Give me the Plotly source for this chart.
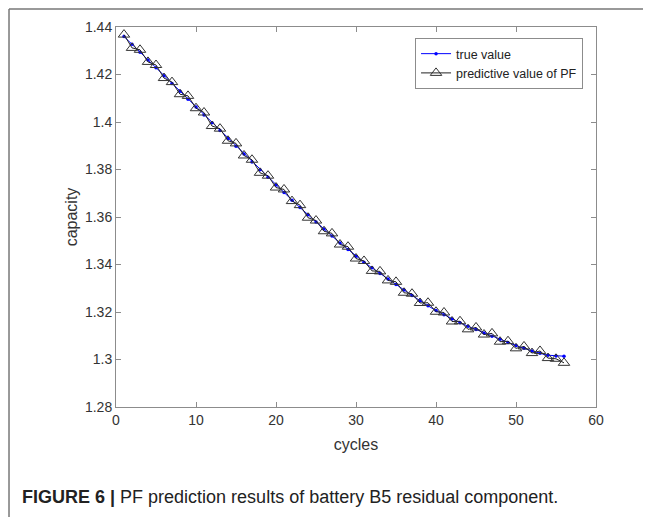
import plotly.graph_objects as go

cycles = list(range(1, 57))

true_value = [1.4360, 1.4327, 1.4294, 1.4261, 1.4228, 1.4195, 1.4162, 1.4129, 1.4096, 1.4063,
              1.4030, 1.3997, 1.3964, 1.3931, 1.3898, 1.3865, 1.3832, 1.3799, 1.3767, 1.3735,
              1.3703, 1.3671, 1.3640, 1.3609, 1.3579, 1.3549, 1.3520, 1.3491, 1.3463, 1.3435,
              1.3410, 1.3386, 1.3362, 1.3339, 1.3316, 1.3293, 1.3270, 1.3247, 1.3226, 1.3206,
              1.3188, 1.3171, 1.3155, 1.3140, 1.3126, 1.3112, 1.3098, 1.3085, 1.3072, 1.3059,
              1.3047, 1.3036, 1.3026, 1.3018, 1.3015, 1.3014]

pf_value = [1.4368, 1.4312, 1.4304, 1.4253, 1.4240, 1.4185, 1.4168, 1.4117, 1.4110, 1.4058,
            1.4040, 1.3983, 1.3972, 1.3921, 1.3910, 1.3859, 1.3841, 1.3786, 1.3774, 1.3724,
            1.3716, 1.3667, 1.3650, 1.3597, 1.3585, 1.3540, 1.3531, 1.3484, 1.3475, 1.3425,
            1.3415, 1.3373, 1.3371, 1.3333, 1.3327, 1.3281, 1.3277, 1.3238, 1.3239, 1.3201,
            1.3198, 1.3160, 1.3161, 1.3127, 1.3135, 1.3105, 1.3110, 1.3075, 1.3077, 1.3047,
            1.3055, 1.3027, 1.3036, 1.3006, 1.3003, 1.2986]

x_ticks = [0, 10, 20, 30, 40, 50, 60]
y_ticks = [1.28, 1.30, 1.32, 1.34, 1.36, 1.38, 1.40, 1.42, 1.44]
y_labels = ['1.28', '1.3', '1.32', '1.34', '1.36', '1.38', '1.4', '1.42', '1.44']

font = 'Liberation Sans, Arial, sans-serif'
axcol = '#8c8c8c'

pf = go.Scatter(x=cycles, y=pf_value, name='predictive value of PF', mode='lines+markers',
                line=dict(color='#222222', width=1),
                marker=dict(symbol='triangle-up-open', size=10, color='#333333', line=dict(width=1)),
                legendrank=2)
tv = go.Scatter(x=cycles, y=true_value, name='true value', mode='lines+markers',
                line=dict(color='#0000ff', width=1),
                marker=dict(symbol='circle', size=3.5, color='#0000ff'),
                legendrank=1)

axis = dict(showline=True, linecolor=axcol, linewidth=1, mirror='ticks', ticks='inside',
            ticklen=5, tickcolor=axcol, showgrid=False, zeroline=False,
            tickfont=dict(size=14, color='#333333', family=font),
            title_font=dict(size=16, color='#333333', family=font))

# page has an 8px body margin, so the figure is 8px smaller than the window
layout = go.Layout(
    width=643, height=509, paper_bgcolor='white', plot_bgcolor='white',
    margin=dict(l=108, r=55, t=19, b=110),
    font=dict(family=font),
    xaxis=dict(axis, range=[0, 60], tickvals=x_ticks, title=dict(text='cycles', standoff=12)),
    yaxis=dict(axis, range=[1.28, 1.44], tickvals=y_ticks, ticktext=y_labels,
               title=dict(text='capacity', standoff=3)),
    legend=dict(x=0.973, y=0.971, xanchor='right', yanchor='top', bgcolor='white',
                bordercolor='#8c8c8c', borderwidth=1, font=dict(size=12.5, color='#222222'),
                itemwidth=30, tracegroupgap=0),
    showlegend=True,
    shapes=[
        dict(type='line', xref='paper', yref='paper', x0=-0.2229, x1=1.2, y0=1.0474, y1=1.0474,
             line=dict(color='#777777', width=1.5)),
        dict(type='line', xref='paper', yref='paper', x0=-0.2229, x1=-0.2229, y0=-0.3, y1=1.0474,
             line=dict(color='#777777', width=1.5)),
    ],
    annotations=[
        dict(text='<b>FIGURE 6 |</b> PF prediction results of battery B5 residual component.',
             xref='paper', yref='paper', x=-0.2, y=-0.2368, xanchor='left', yanchor='middle',
             showarrow=False, font=dict(size=18, color='#222222', family=font)),
    ],
)

fig = go.Figure([tv, pf], layout=layout)
fig.write_html('out.html')
